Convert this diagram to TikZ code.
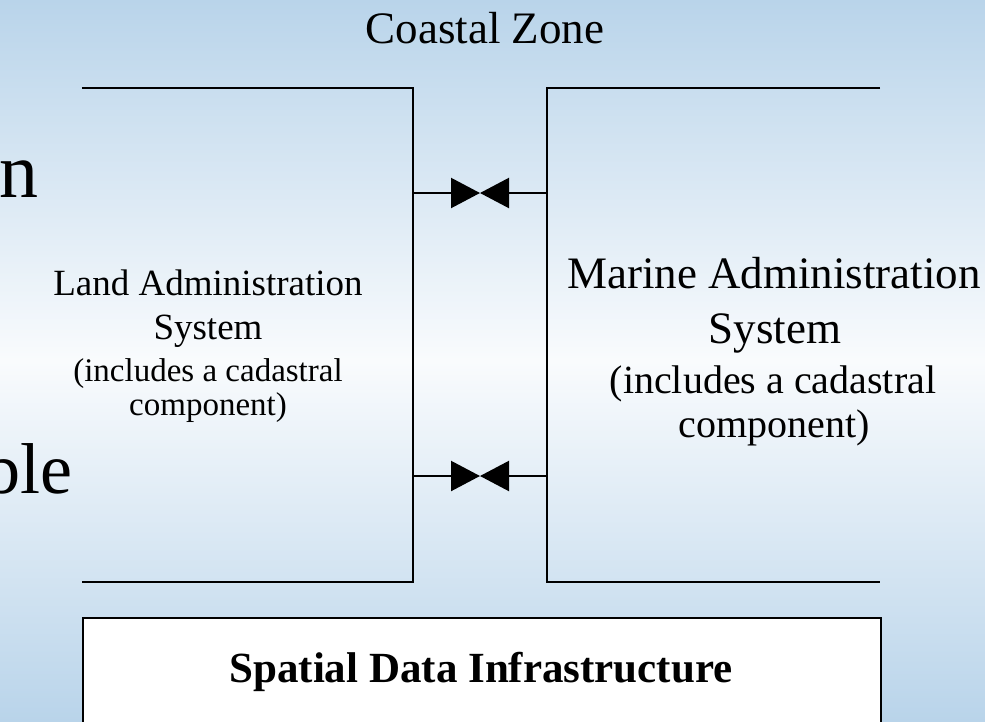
\documentclass[tikz,border=0pt]{standalone}
\usepackage{fontspec}
\setmainfont{Liberation Serif}
\usetikzlibrary{arrows.meta,calc}
\definecolor{bgblue}{HTML}{B9D4EA}
\definecolor{bgwhite}{HTML}{F9FBFD}
\tikzset{
  edge/.style={line width=2.2pt, black},
  lbl/.style={anchor=base, inner sep=0pt},
  valve/.style={line width=2.2pt, -{Triangle[width=30pt,length=29pt]}},
}
\begin{document}
\begin{tikzpicture}[x=1pt,y=-1pt]
\useasboundingbox (0,0) rectangle (985,721);
\clip (0,0) rectangle (985,721);
\shade[top color=bgblue, bottom color=bgblue, middle color=bgwhite] (0,0) rectangle (985,721);
% partially hidden background text
\node[lbl, anchor=base east, font=\fontsize{78}{80}\selectfont] (bgn) at (39,197) {n};
\node[lbl, anchor=base east, font=\fontsize{72}{80}\selectfont] (bgble) at (73,493) {ble};
% title
\node[lbl, font=\fontsize{45}{50}\selectfont] (title) at (485,43) {Coastal Zone};
% boxes (geometry)
\node[minimum width=331pt, minimum height=494pt, inner sep=0pt] (land) at (247.5,335) {};
\node[minimum width=333pt, minimum height=494pt, inner sep=0pt] (marine) at (713.5,335) {};
\draw[edge] (land.north west) -- (land.north east) -- (land.south east) -- (land.south west);
\draw[edge] (marine.north east) -- (marine.north west) -- (marine.south west) -- (marine.south east);
% land text
\node[lbl, font=\fontsize{37}{42}\selectfont] (l1) at (208,295) {Land Administration};
\node[lbl, font=\fontsize{37}{42}\selectfont] (l2) at (208,339) {System};
\node[lbl, font=\fontsize{33}{38}\selectfont] (l3) at (208,381) {(includes a cadastral};
\node[lbl, font=\fontsize{33}{38}\selectfont] (l4) at (208,415) {component)};
% marine text
\node[lbl, font=\fontsize{45}{48}\selectfont] (m1) at (774,288) {Marine Administration};
\node[lbl, font=\fontsize{45}{48}\selectfont] (m2) at (775,343) {System};
\node[lbl, font=\fontsize{40}{42}\selectfont] (m3) at (773,393) {(includes a cadastral};
\node[lbl, font=\fontsize{40}{42}\selectfont] (m4) at (774,437) {component)};
% connectors
\coordinate (la) at (land.east |- 0,193);
\coordinate (ma) at (marine.west |- 0,193);
\coordinate (lb) at (land.east |- 0,476);
\coordinate (mb) at (marine.west |- 0,476);
\coordinate (ca) at ($(la)!0.5!(ma)$);
\coordinate (cb) at ($(lb)!0.5!(mb)$);
\draw[valve] (la) -- (ca);
\draw[valve] (ma) -- (ca);
\draw[valve] (lb) -- (cb);
\draw[valve] (mb) -- (cb);
% SDI
\node[draw, line width=2.2pt, fill=white, minimum width=798pt, minimum height=140pt, inner sep=0pt, anchor=north west] (sdi) at (82,617) {};
\node[lbl, font=\fontsize{43}{48}\selectfont\bfseries] (sditext) at (481,682) {Spatial Data Infrastructure};
\end{tikzpicture}
\end{document}
